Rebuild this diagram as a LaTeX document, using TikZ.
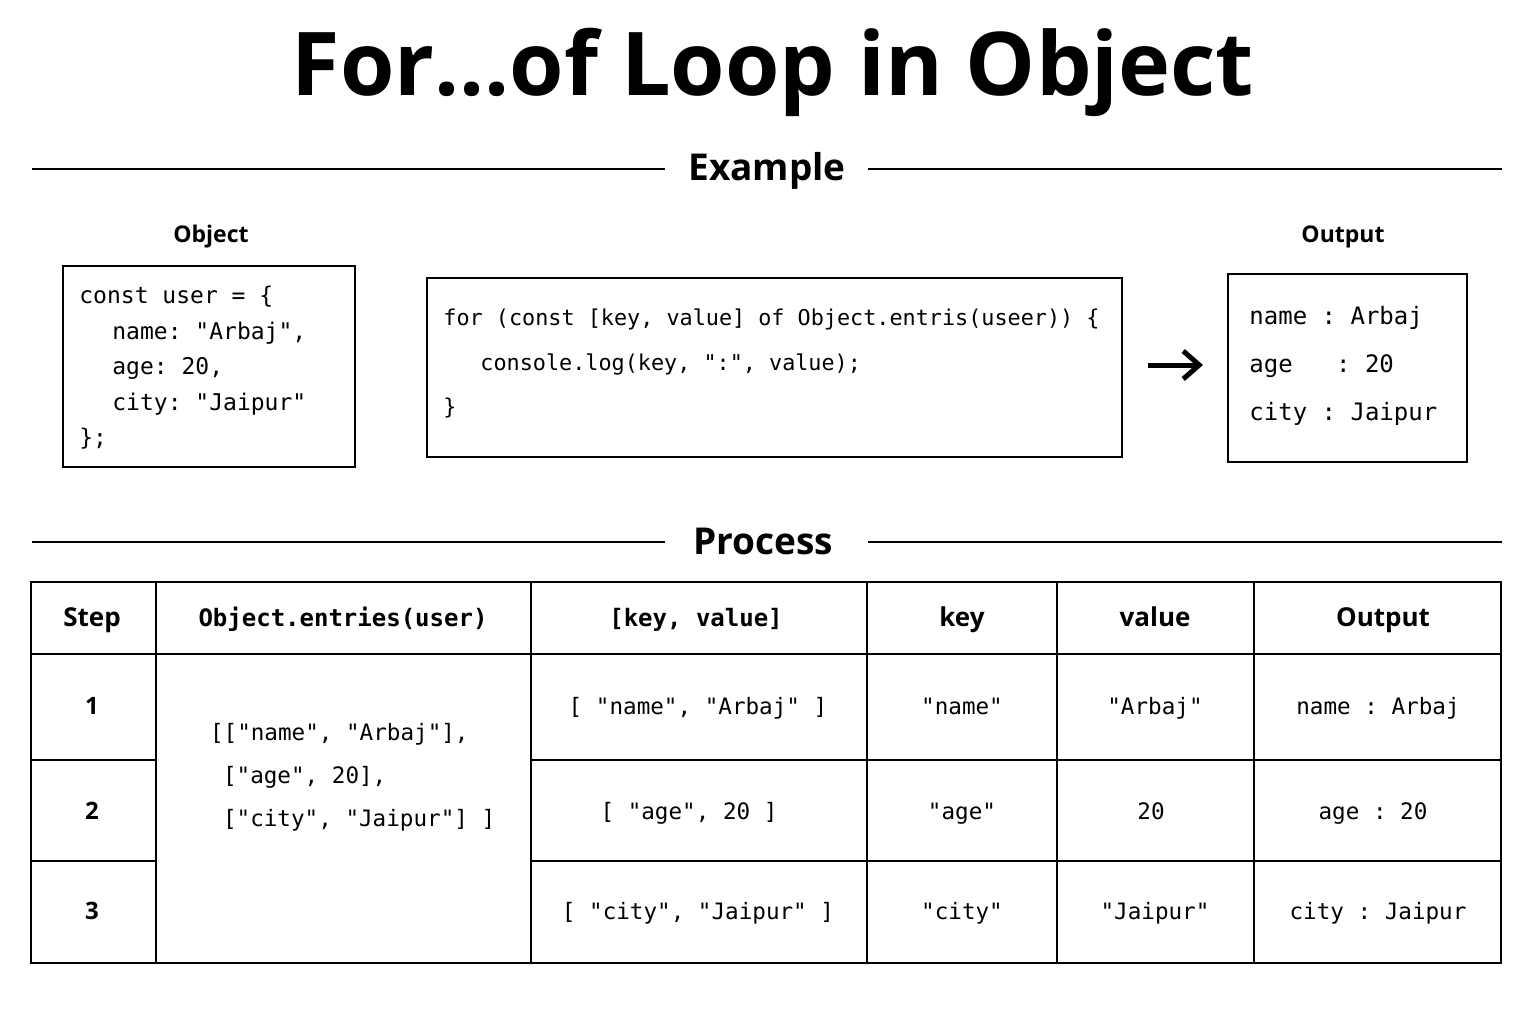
\documentclass[tikz,border=0pt]{standalone}
\usepackage{fontspec}
\setmainfont{Open Sans}
\setsansfont{Open Sans}
\setmonofont{DejaVu Sans Mono}
\usetikzlibrary{positioning,arrows.meta}

\tikzset{
  box/.style={draw, line width=1pt},
  code/.style={font=\fontsize{11.5}{14}\selectfont\ttfamily, anchor=west, inner sep=0pt},
  head/.style={font=\fontsize{13}{15}\selectfont\bfseries, text height=1.6ex, text depth=.4ex},
  cell/.style={font=\fontsize{11.3}{14}\selectfont\ttfamily, text height=1.6ex, text depth=.4ex},
  rule/.style={line width=1pt}
}

\begin{document}
\begin{tikzpicture}[x=0.5pt,y=-0.5pt]
	\useasboundingbox (0,0) rectangle (1536,1024);
	% title
	\node[font=\fontsize{44}{48}\selectfont\bfseries] (title) at (773,72) {For...of Loop in Object};
	\node[font=\fontsize{18.5}{20}\selectfont\bfseries] (ex) at (767,171) {Example};
	\draw[rule] (32,169) -- (665,169);
	\draw[rule] (868,169) -- (1502,169);
	
	% object box
	\node[font=\fontsize{11.5}{13}\selectfont\bfseries] (objlbl) at (211,237) {Object};
	\draw[box] (63,266) rectangle (355,467);
	\node[code] (o1) at (79,297) {const user = \{};
	\node[code] (o2) at (112,333) {name: "Arbaj",};
	\node[code] (o3) at (112,368) {age: 20,};
	\node[code] (o4) at (112,404) {city: "Jaipur"};
	\node[code] (o5) at (79,439) {\};};
	
	% loop box
	\draw[box] (427,278) rectangle (1122,457);
	\node[code,font=\fontsize{10.9}{14}\selectfont\ttfamily] (l1) at (443,319) {for (const [key, value] of Object.entris(useer)) \{};
	\node[code,font=\fontsize{10.9}{14}\selectfont\ttfamily] (l2) at (480,364) {console.log(key, ":", value);};
	\node[code,font=\fontsize{10.9}{14}\selectfont\ttfamily] (l3) at (443,408) {\}};
	
	% arrow
	\coordinate (a1) at (1148,365);
	\coordinate (a2) at (1203,365);
	\draw[line width=2.5pt,-{Straight Barb[length=8pt,width=14pt]}] (a1) -- (a2);
	
	% output box
	\node[font=\fontsize{11.5}{13}\selectfont\bfseries] (outlbl) at (1343,237) {Output};
	\draw[box] (1228,274) rectangle (1467,462);
	\node[code,font=\fontsize{12}{14}\selectfont\ttfamily] (p1) at (1249,318) {name : Arbaj};
	\node[code,font=\fontsize{12}{14}\selectfont\ttfamily] (p2) at (1249,366) {age\ \ \ : 20};
	\node[code,font=\fontsize{12}{14}\selectfont\ttfamily] (p3) at (1249,414) {city : Jaipur};
	
	% process
	\node[font=\fontsize{18.5}{20}\selectfont\bfseries] (proc) at (763,541) {Process};
	\draw[rule] (32,542) -- (665,542);
	\draw[rule] (868,542) -- (1502,542);
	
	% table
	\draw[box] (31,582) rectangle (1501,963);
	\foreach \x in {156,531,867,1057,1254} \draw[rule] (\x,582) -- (\x,963);
	\draw[rule] (31,654) -- (1501,654);
	\draw[rule] (31,760) -- (156,760);
	\draw[rule] (31,861) -- (156,861);
	\draw[rule] (531,760) -- (1501,760);
	\draw[rule] (531,861) -- (1501,861);
	
	\node[head] (h1) at (92,620) {Step};
	\node[head,font=\fontsize{12}{14}\selectfont\ttfamily\bfseries] (h2) at (343,620) {Object.entries(user)};
	\node[head,font=\fontsize{12}{14}\selectfont\ttfamily\bfseries] (h3) at (696,620) {[key, value]};
	\node[head] (h4) at (962,620) {key};
	\node[head] (h5) at (1155,620) {value};
	\node[head] (h6) at (1383,620) {Output};
	
	\foreach \n/\y in {1/708,2/813,3/913}
	  \node[head,font=\fontsize{12}{14}\selectfont\bfseries] (s\n) at (92,\y) {\n};
	
	\node[cell,anchor=west] (e1) at (203,734) {[["name", "Arbaj"],};
	\node[cell,anchor=west] (e2) at (216,777) {["age", 20],};
	\node[cell,anchor=west] (e3) at (216,820) {["city", "Jaipur"] ]};
	
	\node[cell] (kv1) at (698,708) {[ "name", "Arbaj" ]};
	\node[cell] (kv2) at (689,813) {[ "age", 20 ]};
	\node[cell] (kv3) at (698,913) {[ "city", "Jaipur" ]};
	\node[cell] (k1) at (962,708) {"name"};
	\node[cell] (k2) at (962,813) {"age"};
	\node[cell] (k3) at (962,913) {"city"};
	\node[cell] (v1) at (1155,708) {"Arbaj"};
	\node[cell] (v2) at (1151,813) {20};
	\node[cell] (v3) at (1155,913) {"Jaipur"};
	\node[cell] (r1) at (1378,708) {name : Arbaj};
	\node[cell] (r2) at (1373,813) {age : 20};
	\node[cell] (r3) at (1378,913) {city : Jaipur};
\end{tikzpicture}
\end{document}
